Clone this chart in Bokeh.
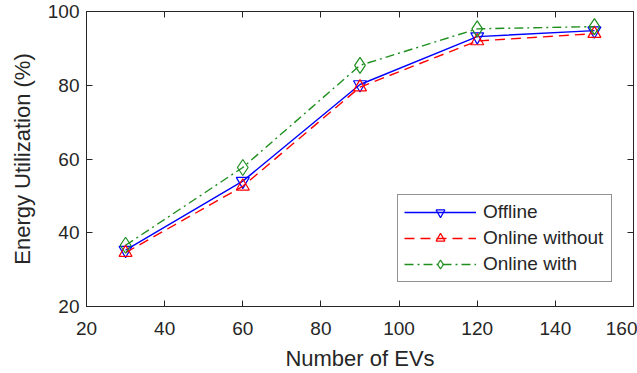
from bokeh.plotting import figure
from bokeh.models import LinearAxis, Range1d, FixedTicker, Legend, LegendItem
from bokeh.embed import file_html
from bokeh.resources import INLINE

num_evs = [30, 60, 90, 120, 150]
offline = [35.3, 54.0, 80.2, 93.2, 94.8]
online_without = [34.6, 52.6, 79.5, 92.0, 94.0]
online_with = [36.6, 57.7, 85.4, 95.3, 95.9]

x_ticks = [20, 40, 60, 80, 100, 120, 140, 160]
y_ticks = [20, 40, 60, 80, 100]

FONT = "Liberation Sans"
AX = "#262626"

p = figure(width=637, height=373, output_backend="svg", toolbar_location=None,
           x_range=Range1d(20, 160), y_range=Range1d(20, 100),
           min_border_left=86, min_border_top=11, min_border_right=4, min_border_bottom=67)
p.xgrid.visible = False
p.ygrid.visible = False
p.outline_line_color = AX
p.outline_line_width = 1

for ax in (p.xaxis[0], p.yaxis[0]):
    ax.major_tick_in = 6
    ax.major_tick_out = 0
    ax.minor_tick_in = 0
    ax.minor_tick_out = 0
    ax.axis_line_color = AX
    ax.major_tick_line_color = AX
    ax.major_label_text_font = FONT
    ax.major_label_text_font_size = "19px"
    ax.major_label_text_color = AX
    ax.major_label_text_line_height = 1.0
    ax.axis_label_text_font = FONT
    ax.axis_label_text_font_size = "22px"
    ax.axis_label_text_font_style = "normal"
    ax.axis_label_text_color = AX
    ax.axis_label_text_line_height = 1.0
p.xaxis[0].ticker = FixedTicker(ticks=x_ticks)
p.yaxis[0].ticker = FixedTicker(ticks=y_ticks)
p.xaxis[0].axis_label = "Number of EVs"
p.yaxis[0].axis_label = "Energy Utilization (%)"
p.xaxis[0].major_label_standoff = 15
p.yaxis[0].major_label_standoff = 7
p.xaxis[0].axis_label_standoff = 8
p.yaxis[0].axis_label_standoff = 10

top = LinearAxis(ticker=FixedTicker(ticks=x_ticks), major_label_text_color=None,
                 major_label_text_font_size="0px", major_label_standoff=0,
                 major_tick_in=6, major_tick_out=0, minor_tick_in=0, minor_tick_out=0,
                 axis_line_color=AX, major_tick_line_color=AX)
right = LinearAxis(ticker=FixedTicker(ticks=y_ticks), major_label_text_color=None,
                   major_label_text_font_size="0px", major_label_standoff=0,
                   major_tick_in=6, major_tick_out=0, minor_tick_in=0, minor_tick_out=0,
                   axis_line_color=AX, major_tick_line_color=AX)
p.add_layout(top, "above")
p.add_layout(right, "right")

BLUE = "#0000ff"
RED = "#ff0000"
GREEN = "#1e8f1e"

l1 = p.line(num_evs, offline, line_color=BLUE, line_width=1.4)
m1 = p.scatter(num_evs, offline, marker="inverted_triangle", size=13, line_color=BLUE,
               fill_color=None, line_width=1.2)
l2 = p.line(num_evs, online_without, line_color=RED, line_width=1.4, line_dash="10 6")
m2 = p.scatter(num_evs, online_without, marker="triangle", size=13, line_color=RED,
               fill_color=None, line_width=1.2)
l3 = p.line(num_evs, online_with, line_color=GREEN, line_width=1.4, line_dash="9 4 2 4")
m3 = p.scatter(num_evs, online_with, marker="diamond", size=16, line_color=GREEN,
               fill_color=None, line_width=1.2)

legend = Legend(items=[
    LegendItem(label="Offline", renderers=[l1, m1]),
    LegendItem(label="Online without", renderers=[l2, m2]),
    LegendItem(label="Online with", renderers=[l3, m3]),
], location=(311, 24))
legend.label_text_font = FONT
legend.label_text_font_size = "19px"
legend.label_text_color = AX
legend.glyph_width = 72
legend.glyph_height = 22
legend.label_height = 22
legend.label_width = 122
legend.label_standoff = 7
legend.spacing = 4
legend.padding = 6
legend.margin = 0
legend.border_line_color = AX
legend.border_line_width = 1
legend.background_fill_alpha = 1
p.add_layout(legend, "center")

open("out.html", "w").write(file_html(p, INLINE))
